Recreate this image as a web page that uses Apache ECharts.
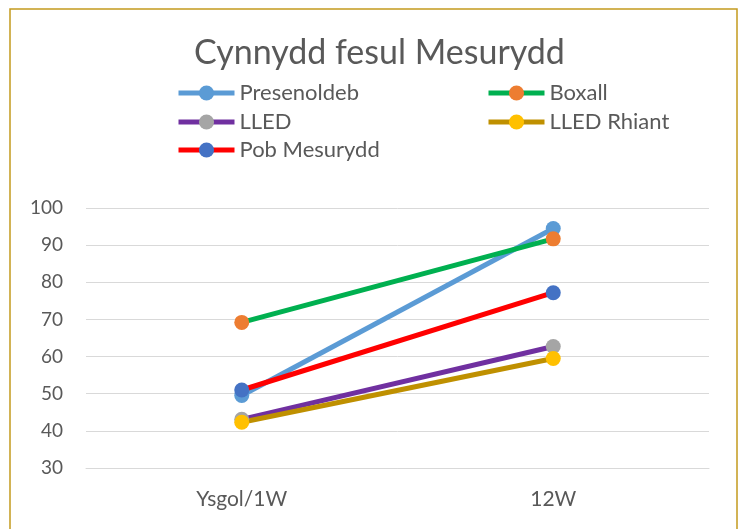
<!DOCTYPE html>
<html>
<head>
<meta charset="utf-8">
<script src="https://cdn.jsdelivr.net/npm/echarts@6/dist/echarts.min.js"></script>
<style>
html,body{margin:0;padding:0;background:#fff;}
#chart{width:739px;height:529px;}
</style>
</head>
<body>
<div id="chart"></div>
<script>
const categories = ['Ysgol/1W', '12W'];
const seriesNames = ['Presenoldeb', 'Boxall', 'LLED', 'LLED Rhiant', 'Pob Mesurydd'];
const presenoldeb = [49.5, 94.5];
const boxall = [69.2, 91.7];
const lled = [43.1, 62.7];
const lledRhiant = [42.3, 59.5];
const pobMesurydd = [51.0, 77.2];
const yTicks = [30, 40, 50, 60, 70, 80, 90, 100];

const values = [presenoldeb, boxall, lled, lledRhiant, pobMesurydd];
const lineColors = ['#5B9BD5', '#00B050', '#7030A0', '#BF9000', '#FF0000'];
const markerColors = ['#5B9BD5', '#ED7D31', '#A5A5A5', '#FFC000', '#4472C4'];
const legendPos = [
  {left: 176, top: 82}, {left: 486, top: 82},
  {left: 176, top: 111}, {left: 486, top: 111},
  {left: 176, top: 139}
];
const FONT = 'Lato';
const chart = echarts.init(document.getElementById('chart'));
chart.setOption({
  backgroundColor: '#fff',
  animation: false,
  textStyle: {fontFamily: FONT},
  title: {
    text: 'Cynnydd fesul Mesurydd',
    left: 189,
    top: 31,
    textStyle: {fontFamily: FONT, fontSize: 34, fontWeight: 'normal', color: '#595959'}
  },
  graphic: [{
    type: 'rect',
    shape: {x: 10, y: 9, width: 727, height: 600},
    style: {fill: 'none', stroke: '#C39A1E', lineWidth: 1.5},
    silent: true,
    z: -1
  }],
  legend: seriesNames.map((n, i) => ({
    data: [n],
    left: legendPos[i].left,
    top: legendPos[i].top,
    padding: 0,
    itemWidth: 56,
    itemHeight: 19,
    itemGap: 5,
    selectedMode: false,
    lineStyle: {width: 5},
    textStyle: {fontFamily: FONT, fontSize: 22, color: '#595959'}
  })),
  grid: {left: 86, right: 30, top: 208, bottom: 61},
  xAxis: {
    type: 'category',
    data: categories,
    boundaryGap: true,
    axisLine: {lineStyle: {color: '#D9D9D9', width: 1}},
    axisTick: {show: false},
    axisLabel: {color: '#595959', fontSize: 21, fontFamily: FONT, margin: 21}
  },
  yAxis: {
    type: 'value',
    min: yTicks[0],
    max: yTicks[yTicks.length - 1],
    interval: 10,
    axisLine: {show: false},
    axisTick: {show: false},
    splitLine: {lineStyle: {color: '#D9D9D9', width: 1}},
    axisLabel: {color: '#595959', fontSize: 19, fontFamily: FONT, margin: 23}
  },
  series: seriesNames.map((n, i) => ({
    name: n,
    type: 'line',
    data: values[i],
    symbol: 'circle',
    symbolSize: 15,
    lineStyle: {color: lineColors[i], width: 5},
    itemStyle: {color: markerColors[i], borderWidth: 0},
    emphasis: {disabled: true}
  }))
});
</script>
</body>
</html>
